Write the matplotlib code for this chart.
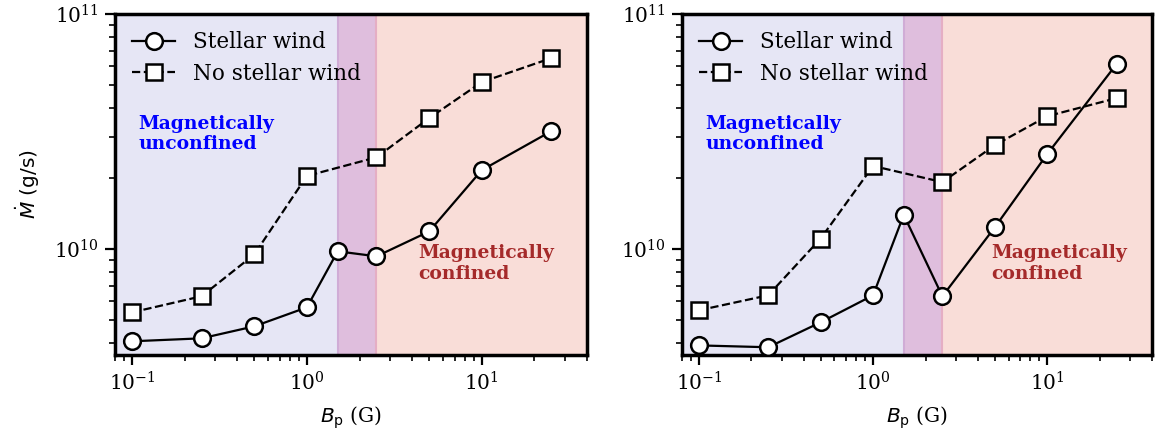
import numpy as np
import matplotlib
matplotlib.use("Agg")
import matplotlib.pyplot as plt

# Polar field strength (G)
bp_wind = [0.1, 0.25, 0.5, 1.0, 1.5, 2.5, 5.0, 10.0, 25.0]
bp_nowind = [0.1, 0.25, 0.5, 1.0, 2.5, 5.0, 10.0, 25.0]

# Mass-loss rates (g/s), left panel
mdot_wind_a = [4.06e9, 4.18e9, 4.70e9, 5.66e9, 9.8e9, 9.33e9, 1.19e10, 2.17e10, 3.18e10]
mdot_nowind_a = [5.39e9, 6.31e9, 9.5e9, 2.05e10, 2.46e10, 3.61e10, 5.14e10, 6.5e10]

# Mass-loss rates (g/s), right panel
mdot_wind_b = [3.90e9, 3.83e9, 4.89e9, 6.37e9, 1.40e10, 6.31e9, 1.24e10, 2.54e10, 6.13e10]
mdot_nowind_b = [5.5e9, 6.37e9, 1.11e10, 2.26e10, 1.93e10, 2.77e10, 3.68e10, 4.39e10]

plt.rcParams['font.family'] = 'DejaVu Serif'
plt.rcParams['mathtext.fontset'] = 'dejavusans'

fig = plt.figure(figsize=(11.55, 4.41), dpi=100)
ax1 = fig.add_axes([0.0996, 0.195, 0.4087, 0.773])
ax2 = fig.add_axes([0.5905, 0.195, 0.4070, 0.773])

panels = [(ax1, mdot_wind_a, mdot_nowind_a, 0.642),
          (ax2, mdot_wind_b, mdot_nowind_b, 0.658)]

for ax, mw, mn, xconf in panels:
    ax.set_xscale('log')
    ax.set_yscale('log')
    ax.set_xlim(0.08, 40)
    ax.set_ylim(3.55e9, 1e11)

    # regime shading
    ax.axvspan(0.01, 1.5, color='#e6e6f5', zorder=0, lw=0)
    ax.axvspan(1.5, 2.5, color='#dfbedd', zorder=0, lw=0)
    ax.axvspan(2.5, 100, color='#f9ddd8', zorder=0, lw=0)
    ax.axvline(1.5, color='#d0acd6', lw=1.5, zorder=0.5)
    ax.axvline(2.5, color='#e5aec4', lw=1.5, zorder=0.5)

    ax.plot(bp_wind, mw, '-o', color='k', lw=1.6, ms=12, mfc='white',
            mec='k', mew=1.8, label='Stellar wind', zorder=3)
    ax.plot(bp_nowind, mn, '--s', color='k', lw=1.6, ms=12, mfc='white',
            mec='k', mew=1.8, label='No stellar wind', zorder=3)

    ax.text(0.05, 0.705, 'Magnetically\nunconfined', transform=ax.transAxes,
            color='blue', fontweight='bold', fontsize=13.5, va='top',
            linespacing=1.2)
    ax.text(xconf, 0.325, 'Magnetically\nconfined', transform=ax.transAxes,
            color='brown', fontweight='bold', fontsize=13.5, va='top',
            linespacing=1.2)

    ax.legend(loc='upper left', frameon=False, fontsize=15.5,
              handlelength=2.0, handletextpad=0.8, borderaxespad=0.4,
              labelspacing=0.45)

    for sp in ax.spines.values():
        sp.set_linewidth(2.5)
    ax.tick_params(which='major', length=7, width=1.6, labelsize=14.5, pad=5)
    ax.tick_params(which='minor', length=4, width=1.2)

    ax.set_xlabel(r'$B_\mathrm{p}$ (G)', fontsize=14.5, labelpad=7)

ax1.set_ylabel(r'$\dot{M}$ (g/s)', fontsize=14.5, family='DejaVu Sans',
               labelpad=8)

fig.savefig('out.png', dpi=100)
